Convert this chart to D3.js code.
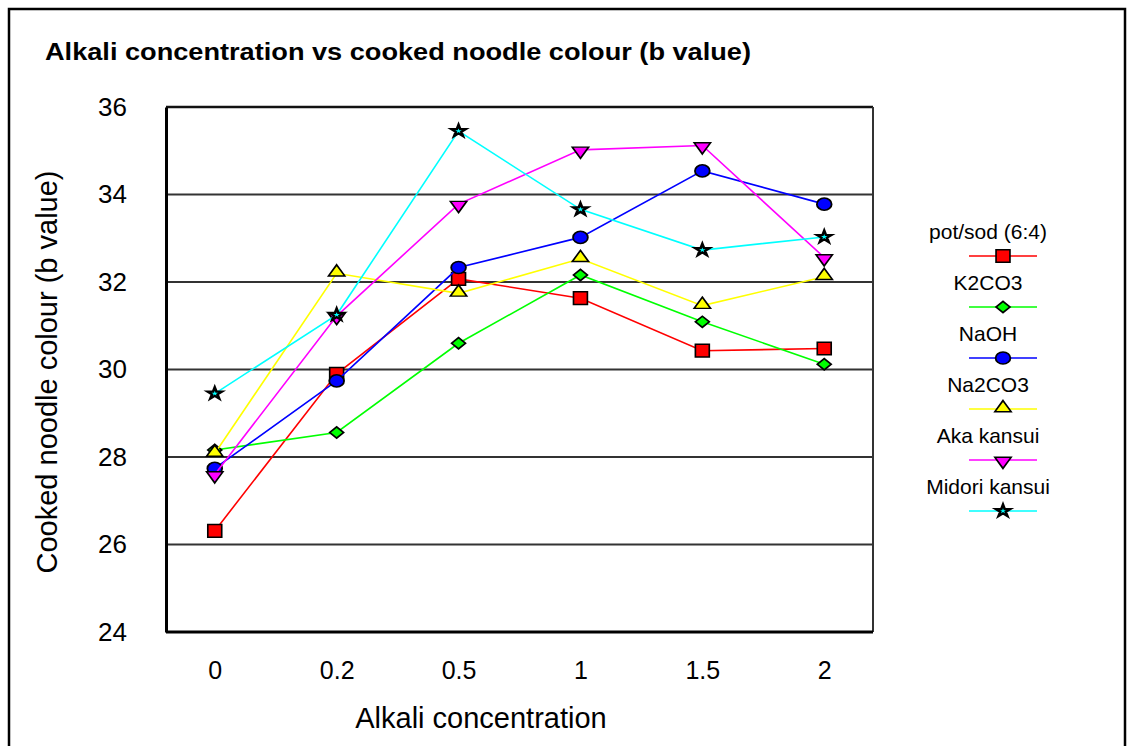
<!DOCTYPE html>
<html>
<head>
<meta charset="utf-8">
<script src="https://cdn.jsdelivr.net/npm/d3@7"></script>
<style>
  html, body { margin: 0; padding: 0; background: #fff; }
  svg { display: block; }
  text { font-family: Arial, "Liberation Sans", sans-serif; fill: #000; }
</style>
</head>
<body>
<svg id="chart" width="1128" height="746"></svg>
<script>
const categories = ["0", "0.2", "0.5", "1", "1.5", "2"];
const yTicks = [24, 26, 28, 30, 32, 34, 36];
const seriesNames = ["pot/sod (6:4)", "K2CO3", "NaOH", "Na2CO3", "Aka kansui", "Midori kansui"];
const potSod = [26.31, 29.9, 32.07, 31.63, 30.43, 30.48];
const k2co3 = [28.16, 28.56, 30.6, 32.16, 31.09, 30.12];
const naoh = [27.74, 29.74, 32.33, 33.02, 34.54, 33.78];
const na2co3 = [28.08, 32.2, 31.74, 32.53, 31.46, 32.12];
const akaKansui = [27.6, 31.22, 33.78, 35.02, 35.12, 32.56];
const midoriKansui = [29.45, 31.25, 35.45, 33.66, 32.73, 33.03];
const seriesValues = [potSod, k2co3, naoh, na2co3, akaKansui, midoriKansui];
const seriesColors = ["#ff0000", "#00ff00", "#0000ff", "#ffff00", "#ff00ff", "#00ffff"];
const seriesShapes = ["square", "diamond", "circle", "triUp", "triDown", "star"];

const svg = d3.select("#chart");

// outer frame
svg.append("rect").attr("x", 9).attr("y", 9).attr("width", 1116).attr("height", 760)
  .attr("fill", "#fff").attr("stroke", "#000").attr("stroke-width", 2.5);

const plot = { left: 166, top: 107, right: 873, bottom: 632 };
const x = d3.scalePoint().domain(categories).range([plot.left, plot.right]).padding(0.4);
const y = d3.scaleLinear().domain([24, 36]).range([plot.bottom, plot.top]);

// gridlines
svg.append("g").selectAll("line").data(yTicks.filter(t => t > 24 && t < 36)).join("line")
  .attr("x1", plot.left).attr("x2", plot.right)
  .attr("y1", d => y(d)).attr("y2", d => y(d))
  .attr("stroke", "#333").attr("stroke-width", 2);

// plot border
svg.append("line").attr("x1", plot.left).attr("x2", plot.right).attr("y1", y(36)).attr("y2", y(36))
  .attr("stroke", "#111").attr("stroke-width", 2.5);
svg.append("line").attr("x1", plot.right).attr("x2", plot.right).attr("y1", plot.top).attr("y2", plot.bottom)
  .attr("stroke", "#333").attr("stroke-width", 2);

// axes
const yAxis = d3.axisLeft(y).tickValues(yTicks).tickSize(0).tickPadding(39).tickFormat(d3.format("d"));
const gy = svg.append("g").attr("transform", `translate(${plot.left},0)`).call(yAxis);
gy.select(".domain").attr("stroke", "#000").attr("stroke-width", 3);
gy.selectAll("text").style("font-size", "26px").style("font-family", "Arial, 'Liberation Sans', sans-serif");

const xAxis = d3.axisBottom(x).tickSize(0).tickPadding(29);
const gx = svg.append("g").attr("transform", `translate(0,${plot.bottom})`).call(xAxis);
gx.select(".domain").attr("stroke", "#000").attr("stroke-width", 3)
  .attr("d", `M${plot.left},0H${plot.right}`);
gx.selectAll("text").style("font-size", "25px").style("font-family", "Arial, 'Liberation Sans', sans-serif");

// symbol helpers
function symbolFor(shape) {
  switch (shape) {
    case "square": return { path: d3.symbol(d3.symbolSquare, 160)(), tf: "scale(1.1,1)" };
    case "diamond": return { path: d3.symbol(d3.symbolSquare, 62)(), tf: "scale(1.25,1) rotate(45)" };
    case "circle": return { path: d3.symbol(d3.symbolCircle, 115)(), tf: "scale(1.22,1)" };
    case "triUp": return { path: d3.symbol(d3.symbolTriangle, 80)(), tf: "translate(0,-1) scale(1.2,0.95)" };
    case "triDown": return { path: d3.symbol(d3.symbolTriangle, 80)(), tf: "translate(0,1) scale(1.2,-0.95)" };
    case "star": return { path: d3.symbol(d3.symbolStar, 45)(), tf: "scale(1.2,1)" };
  }
}

const line = d3.line().x((d, i) => x(categories[i])).y(d => y(d));

seriesValues.forEach((vals, si) => {
  const g = svg.append("g");
  g.append("path").attr("d", line(vals)).attr("fill", "none")
    .attr("stroke", seriesColors[si]).attr("stroke-width", 1.6);
  const sym = symbolFor(seriesShapes[si]);
  g.selectAll("path.m").data(vals).join("path").attr("class", "m")
    .attr("d", sym.path)
    .attr("transform", (d, i) => `translate(${x(categories[i])},${y(d)}) ${sym.tf}`)
    .attr("fill", seriesColors[si])
    .attr("stroke", "#000").attr("stroke-width", seriesShapes[si] === "star" ? 2.2 : 1.5);
});

// legend
const legend = svg.append("g");
seriesNames.forEach((name, i) => {
  const ty = 232 + i * 51;
  legend.append("text").attr("x", 988).attr("y", ty).attr("dy", "0.35em")
    .attr("text-anchor", "middle").style("font-size", "21px").text(name);
  const ly = ty + 24;
  legend.append("line").attr("x1", 969).attr("x2", 1037).attr("y1", ly).attr("y2", ly)
    .attr("stroke", seriesColors[i]).attr("stroke-width", 1.6);
  const sym = symbolFor(seriesShapes[i]);
  legend.append("path").attr("d", sym.path)
    .attr("transform", `translate(1003,${ly}) ${sym.tf}`)
    .attr("fill", seriesColors[i]).attr("stroke", "#000")
    .attr("stroke-width", seriesShapes[i] === "star" ? 2.2 : 1.5);
});

// title
svg.append("text").attr("x", 45).attr("y", 60)
  .style("font-size", "23px").style("font-weight", "bold")
  .attr("textLength", 706).attr("lengthAdjust", "spacingAndGlyphs")
  .text("Alkali concentration vs cooked noodle colour (b value)");

// axis titles
svg.append("text").attr("x", 481).attr("y", 718).attr("dy", "0.35em")
  .attr("text-anchor", "middle").style("font-size", "29px").text("Alkali concentration");
svg.append("text").attr("transform", "translate(47,372) rotate(-90)").attr("dy", "0.35em")
  .attr("text-anchor", "middle").style("font-size", "29px").text("Cooked noodle colour (b value)");
</script>
</body>
</html>
